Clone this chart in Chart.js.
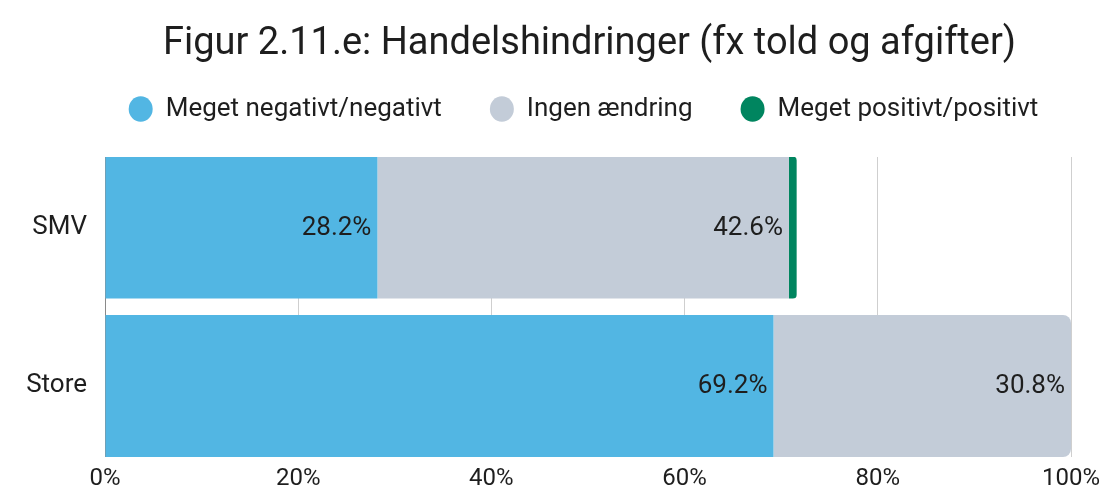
<!DOCTYPE html>
<html>
<head>
<meta charset="utf-8">
<script src="https://cdn.jsdelivr.net/npm/chart.js@4"></script>
<style>
html,body{margin:0;padding:0;background:#fff;}
#wrap{width:1103px;height:492px;position:relative;}
</style>
</head>
<body>
<div id="wrap"><canvas id="c" width="1103" height="492"></canvas></div>
<script>
const categories = ["SMV", "Store"];
const negativ = [28.2, 69.2];
const ingen = [42.6, 30.8];
const positiv = [0.8, 0];
const seriesNames = ["Meget negativt/negativt", "Ingen ændring", "Meget positivt/positivt"];
const xTicks = [0, 20, 40, 60, 80, 100];

const FONT = "Roboto";
const TXT = "#1e1e1e";
const colors = ["#52b6e3", "#c3ccd8", "#00855f"];
const allSeries = [negativ, ingen, positiv];

function radiusFor(ctx) {
  const i = ctx.dataIndex, d = ctx.datasetIndex;
  if (i === undefined) return 0;
  let last = -1;
  for (let k = 0; k < allSeries.length; k++) if (allSeries[k][i] > 0) last = k;
  return d === last ? {topLeft:0,bottomLeft:0,topRight:8,bottomRight:8} : 0;
}

const labelPlugin = {
  id: 'segLabels',
  afterDatasetsDraw(chart) {
    const ctx = chart.ctx;
    ctx.save();
    ctx.font = "400 26px " + FONT;
    ctx.fillStyle = TXT;
    ctx.textAlign = "right";
    ctx.textBaseline = "middle";
    chart.data.datasets.forEach((ds, di) => {
      const meta = chart.getDatasetMeta(di);
      meta.data.forEach((bar, i) => {
        const v = allSeries[di][i];
        if (!v || v < 5) return;
        ctx.fillText(v.toFixed(1) + "%", bar.x - 6, bar.y + 1);
      });
    });
    ctx.restore();
  }
};

const shiftPlugin = {
  id: 'shiftHeader',
  afterLayout(chart) {
    const t = chart.titleBlock;
    if (t) { t.left += 54; t.right += 54; }
    const l = chart.legend;
    if (l) { l.left += 48; l.right += 48; l.top -= 25; l.bottom -= 25; }
  }
};

new Chart(document.getElementById('c'), {
  type: 'bar',
  data: {
    datasets: allSeries.map((arr, k) => ({
      label: seriesNames[k],
      data: arr.map((v, i) => ({ x: v, y: i })),
      backgroundColor: colors[k],
      borderWidth: 0,
      borderSkipped: false,
      borderRadius: radiusFor,
      barPercentage: 0.896,
      categoryPercentage: 1.0
    }))
  },
  options: {
    indexAxis: 'y',
    responsive: false,
    animation: false,
    devicePixelRatio: 1,
    layout: { padding: { left: 0, right: 32, top: 0, bottom: 0 } },
    scales: {
      x: {
        type: 'linear',
        stacked: true,
        min: 0, max: 100,
        afterBuildTicks(scale) { scale.ticks = xTicks.map(v => ({ value: v })); },
        afterFit(scale) { scale.height = 35; scale.paddingRight = 0; scale.paddingLeft = 0; },
        ticks: {
          callback: v => v + "%",
          color: TXT,
          font: { family: FONT, size: 24 },
          padding: 8,
          maxRotation: 0
        },
        grid: {
          color: c => (c.tick && c.tick.value === 0) ? "#8a8a8a" : "#cfcfcf",
          lineWidth: 1,
          drawTicks: false
        },
        border: { display: false }
      },
      y: {
        type: 'linear',
        stacked: true,
        reverse: true,
        offset: false,
        min: -0.4448,
        max: 1.448,
        afterBuildTicks(scale) { scale.ticks = categories.map((c, i) => ({ value: i })); },
        afterFit(scale) { scale.width = 105; },
        ticks: {
          callback: v => categories[v],
          color: TXT,
          font: { family: FONT, size: 26 },
          padding: 18
        },
        grid: { display: false, drawTicks: false, offset: false },
        border: { display: false }
      }
    },
    plugins: {
      title: {
        display: true,
        text: "Figur 2.11.e: Handelshindringer (fx told og afgifter)",
        color: TXT,
        font: { family: FONT, size: 38, weight: '400' },
        padding: { top: 22, bottom: 5.4 }
      },
      legend: {
        display: true,
        position: 'top',
        labels: {
          usePointStyle: true,
          pointStyle: 'circle',
          boxHeight: 18,
          pointStyleWidth: 24,
          color: TXT,
          font: { family: FONT, size: 26 },
          padding: 48
        }
      },
      tooltip: { enabled: false }
    }
  },
  plugins: [labelPlugin, shiftPlugin]
});
</script>
</body>
</html>
